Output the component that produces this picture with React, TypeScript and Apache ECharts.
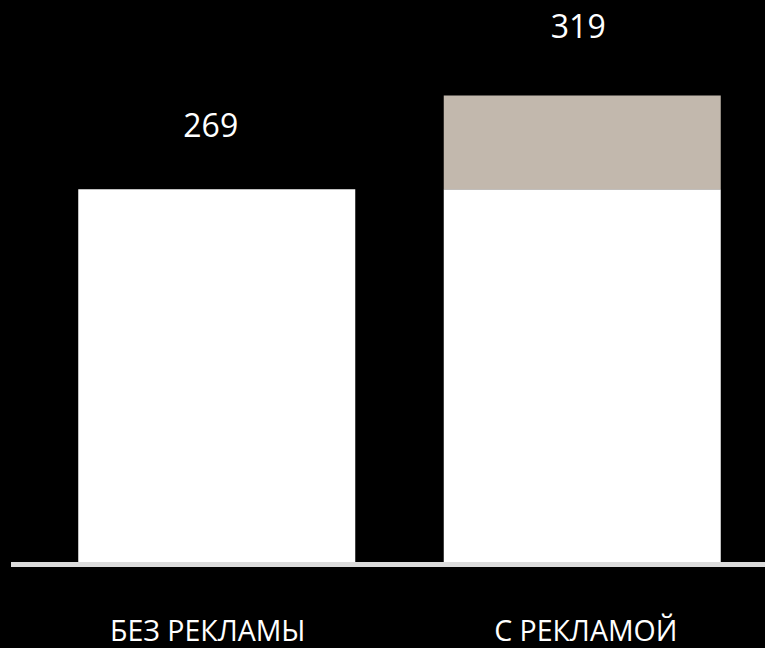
import React, { useEffect, useRef } from "react";
import * as echarts from "echarts";

const categories = ["БЕЗ РЕКЛАМЫ", "С РЕКЛАМОЙ"];
const baseValues = [269, 269];
const extraValues = [0, 50];
const totalLabels = ["269", "319"];

const FONT = "'Open Sans', sans-serif";

export default function App() {
  const ref = useRef<HTMLDivElement>(null);

  useEffect(() => {
    if (!ref.current) return;
    const chart = echarts.init(ref.current, null, { renderer: "svg" });

    const baseData = baseValues.map((v, i) => ({
      value: v,
      label: {
        show: extraValues[i] === 0,
        formatter: () => totalLabels[i],
      },
    }));
    const extraData = extraValues.map((v, i) => ({
      value: v,
      label: {
        show: v !== 0,
        formatter: () => totalLabels[i],
      },
    }));

    chart.setOption({
      animation: false,
      backgroundColor: "#000000",
      grid: { left: 34, width: 733, top: 0, bottom: 86, containLabel: false },
      xAxis: {
        type: "category",
        data: categories,
        axisLine: { show: false },
        axisTick: { show: false },
        axisLabel: {
          margin: 54,
          color: "#ffffff",
          fontFamily: FONT,
          fontSize: 28.5,
          lineHeight: 28,
          formatter: (v: string, i: number) => (i === 0 ? `{a|${v}}` : `{b|${v}}`),
          rich: {
            a: { color: "#ffffff", fontFamily: FONT, fontSize: 28.5, lineHeight: 28, padding: [0, 18, 0, 0] },
            b: { color: "#ffffff", fontFamily: FONT, fontSize: 28.5, lineHeight: 28, padding: [0, 0, 0, 7] },
          },
        },
      },
      yAxis: {
        type: "value",
        min: 70,
        max: 370,
        show: false,
        splitLine: { show: false },
      },
      graphic: [
        {
          type: "rect",
          left: 11,
          top: 562,
          shape: { width: 754, height: 5 },
          style: { fill: "#dcdcdc" },
          z: 100,
        },
      ],
      series: [
        {
          type: "bar",
          stack: "total",
          barWidth: 277,
          data: baseData,
          itemStyle: { color: "#ffffff" },
          label: {
            position: "top",
            distance: 49,
            offset: [-6, 0],
            color: "#ffffff",
            fontFamily: FONT,
            fontSize: 32,
          },
        },
        {
          type: "bar",
          stack: "total",
          barWidth: 277,
          data: extraData,
          itemStyle: { color: "#c2b8ad" },
          label: {
            position: "top",
            distance: 54,
            offset: [-4, 0],
            color: "#ffffff",
            fontFamily: FONT,
            fontSize: 32,
          },
        },
      ],
    });

    return () => chart.dispose();
  }, []);

  return (
    <div
      ref={ref}
      style={{ position: "fixed", left: 0, top: 0, width: 765, height: 648 }}
    />
  );
}
